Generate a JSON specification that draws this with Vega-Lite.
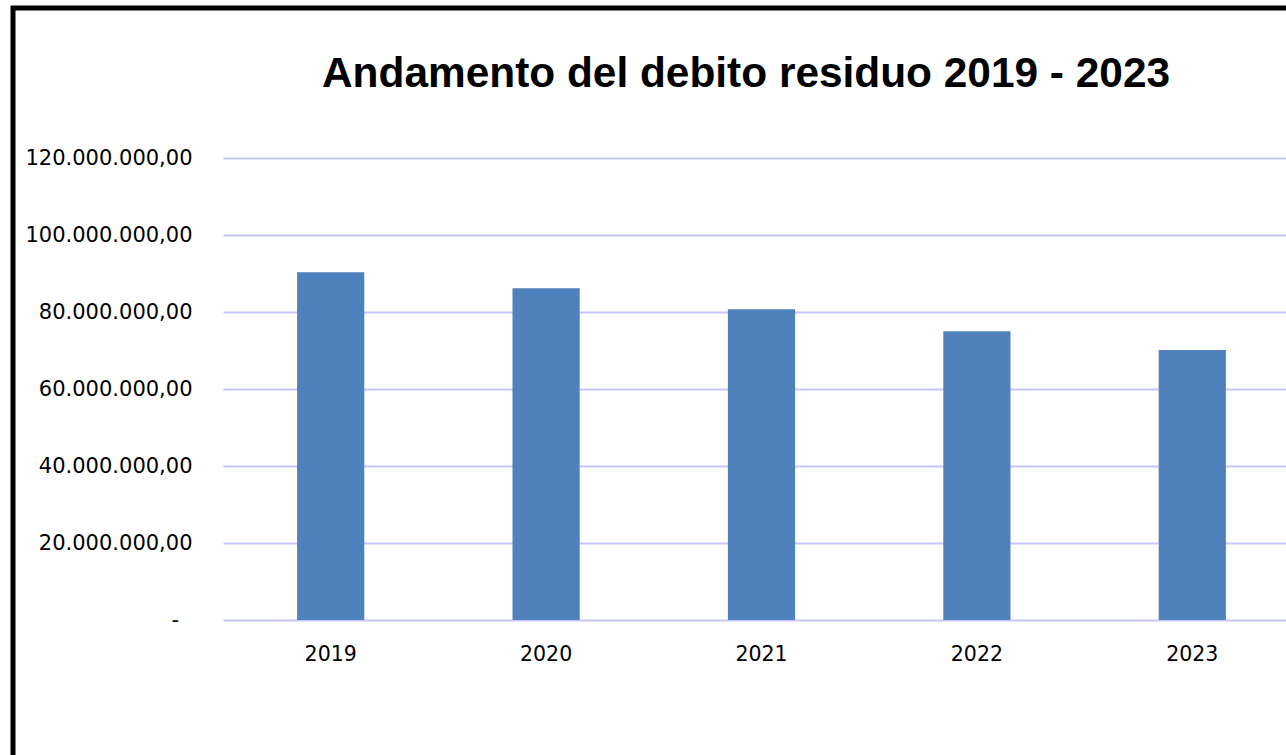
{
  "$schema": "https://vega.github.io/schema/vega-lite/v6.json",
  "width": 1300,
  "height": 760,
  "autosize": {"type": "none"},
  "padding": {"left": 13, "top": 8, "right": -27, "bottom": -13},
  "background": "white",
  "title": {
    "text": "Andamento del debito residuo 2019 - 2023",
    "anchor": "start",
    "frame": "group",
    "dx": 309,
    "dy": 121,
    "offset": 0,
    "baseline": "alphabetic",
    "font": "Liberation Sans",
    "fontSize": 42.4,
    "fontWeight": "bold",
    "color": "black"
  },
  "config": {
    "view": {"stroke": "black", "strokeWidth": 5},
    "locale": {"number": {"decimal": ",", "thousands": ".", "grouping": [3], "currency": ["€", ""]}}
  },
  "data": {
    "values": [
      {"anno": "2019", "debito": 90300000},
      {"anno": "2020", "debito": 86200000},
      {"anno": "2021", "debito": 80700000},
      {"anno": "2022", "debito": 75000000},
      {"anno": "2023", "debito": 70100000}
    ]
  },
  "mark": {"type": "bar", "width": {"band": 0.312}, "color": "#4F81BD"},
  "encoding": {
    "x": {
      "field": "anno",
      "type": "nominal",
      "scale": {"range": [210, 1287], "paddingInner": 0, "paddingOuter": 0},
      "axis": {
        "orient": "bottom",
        "offset": -148,
        "domain": false,
        "ticks": false,
        "grid": false,
        "labelAngle": 0,
        "labelPadding": 24,
        "labelFont": "DejaVu Sans",
        "labelFontSize": 20.5,
        "labelColor": "black",
        "title": null
      }
    },
    "y": {
      "field": "debito",
      "type": "quantitative",
      "scale": {"domain": [0, 120000000], "range": [612, 150], "nice": false, "zero": true},
      "axis": {
        "orient": "left",
        "offset": -209,
        "values": [0, 20000000, 40000000, 60000000, 80000000, 100000000, 120000000],
        "format": ",.2f",
        "labelExpr": "datum.value == 0 ? '-\u00a0\u00a0\u200b' : datum.label",
        "domain": false,
        "ticks": false,
        "grid": true,
        "gridColor": "#C8C8F8",
        "gridWidth": 2,
        "labelPadding": 30,
        "labelFont": "DejaVu Sans",
        "labelFontSize": 21,
        "labelColor": "black",
        "title": null
      }
    }
  }
}
